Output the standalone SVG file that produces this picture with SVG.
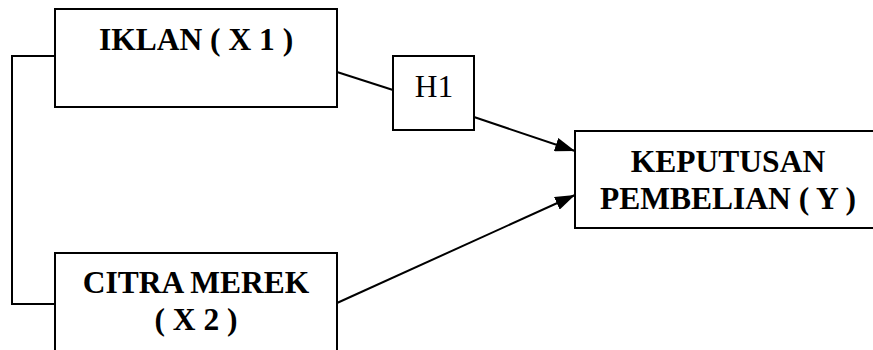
<svg xmlns="http://www.w3.org/2000/svg" width="873" height="350" viewBox="0 0 873 350">
<style>
.box{fill:#fff;stroke:#000;stroke-width:2}
.ln{fill:none;stroke:#000;stroke-width:2}
.b{font-family:"Liberation Serif",serif;font-weight:bold;font-size:31.5px;text-anchor:middle;fill:#000}
.r{font-family:"Liberation Serif",serif;font-size:31.5px;text-anchor:middle;fill:#000}
</style>
<defs>
<marker id="ah" markerWidth="10" markerHeight="8" refX="10" refY="4" orient="auto" markerUnits="userSpaceOnUse" viewBox="0 0 10 8">
<path d="M0,0 L10,4 L0,8 Z" fill="#000"/>
</marker>
<marker id="ah2" markerWidth="20" markerHeight="14" refX="20" refY="7" orient="auto" markerUnits="userSpaceOnUse" viewBox="0 0 20 14">
<path d="M0,0 L20,7 L0,14 Z" fill="#000"/>
</marker>
</defs>
<g id="connectors">
<polyline class="ln" points="55,56 12,56 12,304 55,304"/>
<line class="ln" x1="337" y1="72" x2="393" y2="90"/>
<line class="ln" x1="474" y1="117" x2="575" y2="151" marker-end="url(#ah2)"/>
<line class="ln" x1="337" y1="303" x2="575" y2="195" marker-end="url(#ah2)"/>
</g>
<g id="iklan">
<rect class="box" x="55" y="9" width="282" height="98"/>
<text class="b" x="196" y="50">IKLAN ( X 1 )</text>
</g>
<g id="citra">
<rect class="box" x="55" y="253" width="282" height="110"/>
<text class="b" x="196" y="293">CITRA MEREK</text>
<text class="b" x="196" y="330">( X 2 )</text>
</g>
<g id="h1">
<rect class="box" x="393" y="56" width="81" height="74"/>
<text class="r" x="434" y="97">H1</text>
</g>
<g id="keputusan">
<rect class="box" x="575" y="131" width="310" height="97"/>
<text class="b" x="728" y="172">KEPUTUSAN</text>
<text class="b" x="728" y="209">PEMBELIAN ( Y )</text>
</g>
</svg>
